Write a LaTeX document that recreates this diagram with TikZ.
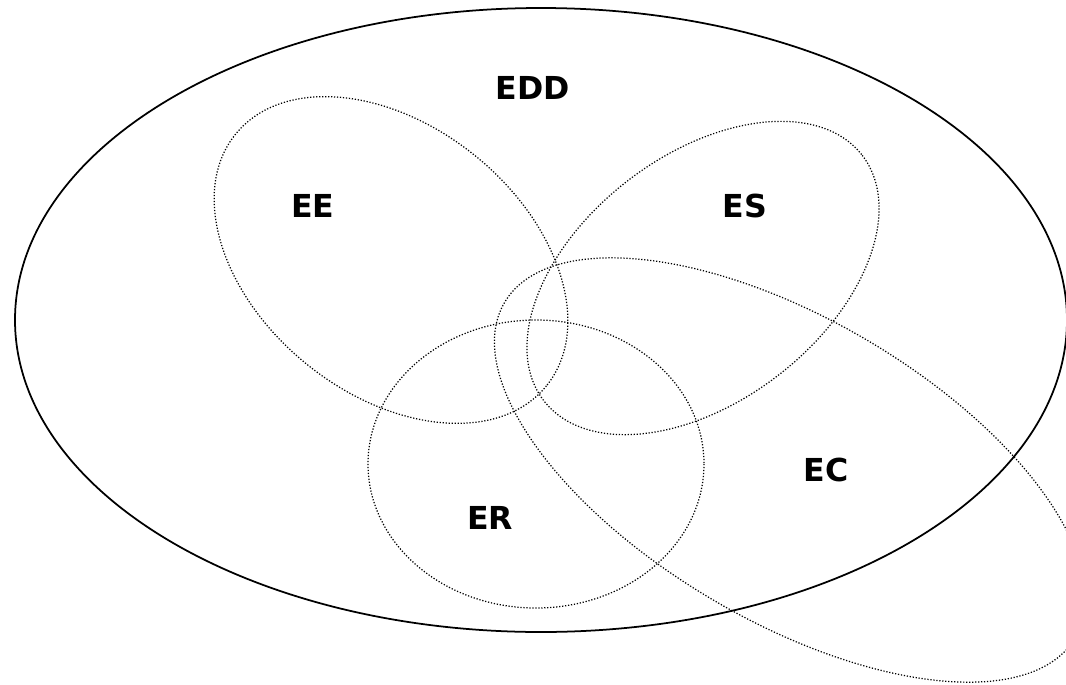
\documentclass[tikz,border=0pt]{standalone}
\usepackage{fontspec}
\setsansfont{DejaVu Sans}
\usepackage{tikz}
\usetikzlibrary{calc,positioning}
\tikzstyle{universe}=[draw,line width=1pt]
\tikzstyle{subset}=[draw,line width=0.7pt,dash pattern=on 0.7pt off 1pt]
\tikzstyle{setlabel}=[font=\sffamily\bfseries\fontsize{18}{20}\selectfont,inner sep=0pt]

\begin{document}
\begin{tikzpicture}[x=0.02cm,y=-0.02cm]
\useasboundingbox (0,0) rectangle (1066,684);
% outer set
\draw[universe] (541,320) ellipse (526 and 312);
% inner sets
\draw[subset,rotate around={-39:(391,260)}] (391,260) ellipse (200 and 134);
\draw[subset,rotate around={37.6:(703,278)}] (703,278) ellipse (201 and 123);
\draw[subset] (536,464) ellipse (168 and 144);
\draw[subset,rotate around={-30.4:(790,470)}] (790,470) ellipse (331 and 151);
% labels
\node[setlabel] (edd) at (533,88) {EDD};
\node[setlabel] (ee) at (313,206) {EE};
\node[setlabel] (es) at (745,206) {ES};
\node[setlabel] (er) at (490,518) {ER};
\node[setlabel] (ec) at (826,470) {EC};
\end{tikzpicture}
\end{document}
